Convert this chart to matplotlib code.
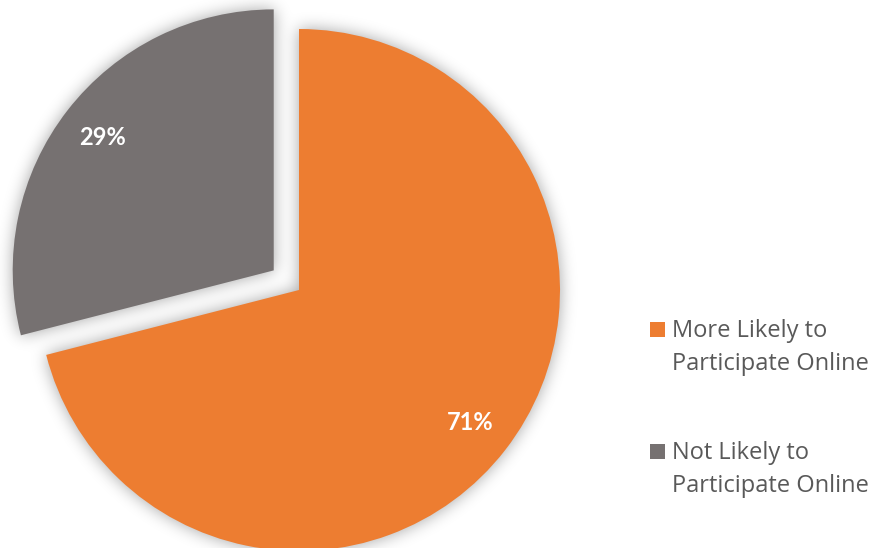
import numpy as np
import matplotlib
matplotlib.use("Agg")
import matplotlib.pyplot as plt
from matplotlib.patches import Rectangle

# ---- data ----
categories = ["More Likely to\nParticipate Online", "Not Likely to\nParticipate Online"]
shares = [71, 29]
colors = ["#ED7D31", "#767171"]

W, H = 879, 548
plt.rcParams["font.family"] = ["Lato", "DejaVu Sans"]

fig = plt.figure(figsize=(W / 100, H / 100), dpi=100)
ax = fig.add_axes([0, 0, 1, 1])

# pie in pixel units: centre and radius in axes data coords
wedges, texts, autotexts = ax.pie(
    shares, colors=colors, startangle=90, counterclock=False,
    center=(299, H - 290), radius=261, explode=[0, 32],
    autopct="%1.0f%%", pctdistance=0.83,
    textprops=dict(color="white", fontsize=17, fontweight="bold"),
    wedgeprops=dict(linewidth=0), frame=True)
for w in wedges:
    w.set_zorder(2)
for t in autotexts:
    t.set_zorder(3)

# ---- soft drop shadow: blur a mask of the wedges ----
ax.set_xlim(0, W)
ax.set_ylim(0, H)
xs, ys = np.meshgrid(np.arange(W) + 0.5, H - np.arange(H) - 0.5)
pts = np.column_stack([xs.ravel(), ys.ravel()])
mask = np.zeros(H * W)
for w in wedges:
    trans = w.get_patch_transform() + ax.transData
    mask = np.maximum(mask, w.get_path().contains_points(pts, transform=trans))
mask = mask.reshape(H, W)

sigma = 8.0
k = np.arange(-int(3 * sigma), int(3 * sigma) + 1)
kern = np.exp(-0.5 * (k / sigma) ** 2)
kern /= kern.sum()
pad = len(k) // 2
padded = np.pad(mask, pad)
rows = sum(kern[i] * padded[:, i:i + W] for i in range(len(k)))
blur = sum(kern[i] * rows[i:i + H, :] for i in range(len(k)))

shadow = np.zeros((H, W, 4))
shadow[..., 3] = 0.36 * blur
ax.imshow(shadow, extent=(0, W, 0, H), origin="upper", zorder=1,
          interpolation="bilinear")
ax.set_xlim(0, W)
ax.set_ylim(0, H)
ax.set_aspect("auto")
ax.axis("off")

# ---- legend: square swatch beside the first line of each label ----
baselines = [337, 459]
line_gap = 33
for label, color, base in zip(categories, colors, baselines):
    fig.patches.append(Rectangle((650 / W, 1 - base / H), 15 / W, 15 / H,
                                 transform=fig.transFigure, facecolor=color,
                                 edgecolor="none"))
    for j, line in enumerate(label.split("\n")):
        fig.text(672 / W, 1 - (base + j * line_gap) / H, line, fontsize=17,
                 color="#595959", va="baseline", ha="left",
                 family=["Open Sans", "DejaVu Sans"])

fig.savefig("out.png", dpi=100)
